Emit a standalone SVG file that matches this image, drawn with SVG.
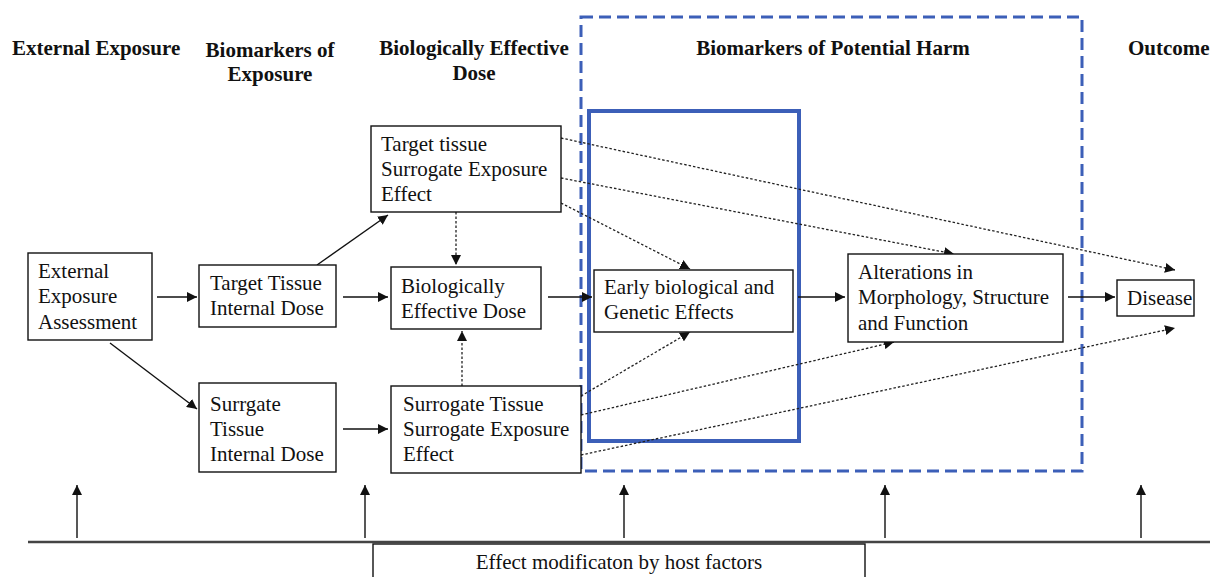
<svg xmlns="http://www.w3.org/2000/svg" width="1212" height="577" viewBox="0 0 1212 577">
<style>
.hd{font-family:'Times New Roman',Times,'Liberation Serif',Tinos,'Noto Serif','DejaVu Serif',serif;font-weight:bold;font-size:21px;fill:#111}
.tx{font-family:'Times New Roman',Times,'Liberation Serif',Tinos,'Noto Serif','DejaVu Serif',serif;font-size:21px;fill:#111}
.box{fill:#fff;stroke:#111;stroke-width:1.4}
.ln{stroke:#111;stroke-width:1.4;fill:none}
.dt{stroke:#222;stroke-width:1.3;fill:none;stroke-dasharray:2.5 2}
</style>
<defs>
<marker id="ah" viewBox="0 0 10 10" refX="10" refY="5" markerWidth="10" markerHeight="10" markerUnits="userSpaceOnUse" orient="auto">
<path d="M0,0 L10,5 L0,10 z" fill="#111"/>
</marker>
</defs>
<rect width="1212" height="577" fill="#fff"/>
<g id="headers">
<text class="hd" x="12" y="55">External Exposure</text>
<text class="hd" x="270" y="57" text-anchor="middle">Biomarkers of</text>
<text class="hd" x="270" y="81" text-anchor="middle">Exposure</text>
<text class="hd" x="474" y="55" text-anchor="middle">Biologically Effective</text>
<text class="hd" x="474" y="80" text-anchor="middle">Dose</text>
<text class="hd" x="833" y="55" text-anchor="middle">Biomarkers of Potential Harm</text>
<text class="hd" x="1128" y="55">Outcome</text>
</g>
<g id="regions">
<rect x="581" y="17" width="501" height="454" fill="none" stroke="#3c5fb8" stroke-width="3" stroke-dasharray="12 6"/>
<rect x="589" y="111" width="210" height="330" fill="none" stroke="#3c5fb8" stroke-width="4"/>
</g>
<g id="connectors">
<line class="ln" x1="157" y1="297" x2="197" y2="297" marker-end="url(#ah)"/>
<line class="ln" x1="343" y1="297" x2="388" y2="297" marker-end="url(#ah)"/>
<line class="ln" x1="548" y1="297" x2="592" y2="297" marker-end="url(#ah)"/>
<line class="ln" x1="798" y1="297" x2="845" y2="297" marker-end="url(#ah)"/>
<line class="ln" x1="1068" y1="297" x2="1115" y2="297" marker-end="url(#ah)"/>
<line class="ln" x1="110" y1="343" x2="197" y2="409" marker-end="url(#ah)"/>
<line class="ln" x1="343" y1="429" x2="388" y2="429" marker-end="url(#ah)"/>
<line class="ln" x1="317" y1="265" x2="388" y2="215" marker-end="url(#ah)"/>
<line class="dt" x1="456" y1="212" x2="456" y2="265" marker-end="url(#ah)"/>
<line class="dt" x1="462" y1="386" x2="462" y2="331" marker-end="url(#ah)"/>
<line class="dt" x1="561" y1="138" x2="1175" y2="270" marker-end="url(#ah)"/>
<line class="dt" x1="561" y1="178" x2="954" y2="254" marker-end="url(#ah)"/>
<line class="dt" x1="561" y1="203" x2="690" y2="269" marker-end="url(#ah)"/>
<line class="dt" x1="581" y1="396" x2="690" y2="332" marker-end="url(#ah)"/>
<line class="dt" x1="581" y1="415" x2="894" y2="342" marker-end="url(#ah)"/>
<line class="dt" x1="581" y1="455" x2="1175" y2="328" marker-end="url(#ah)"/>
<line class="ln" x1="77" y1="538" x2="77" y2="485" marker-end="url(#ah)"/>
<line class="ln" x1="365" y1="538" x2="365" y2="485" marker-end="url(#ah)"/>
<line class="ln" x1="624" y1="538" x2="624" y2="485" marker-end="url(#ah)"/>
<line class="ln" x1="885" y1="538" x2="885" y2="485" marker-end="url(#ah)"/>
<line class="ln" x1="1141" y1="538" x2="1141" y2="485" marker-end="url(#ah)"/>
<line x1="28" y1="542" x2="1210" y2="542" stroke="#444" stroke-width="2.5"/>
</g>
<g id="n-ext">
<rect class="box" x="28" y="253" width="124" height="87"/>
<text class="tx" x="38" y="278">External</text>
<text class="tx" x="38" y="303">Exposure</text>
<text class="tx" x="38" y="329">Assessment</text>
</g>
<g id="n-target-internal">
<rect class="box" x="199" y="265" width="137" height="62"/>
<text class="tx" x="210" y="290">Target Tissue</text>
<text class="tx" x="210" y="315">Internal  Dose</text>
</g>
<g id="n-surrgate-internal">
<rect class="box" x="199" y="383" width="137" height="89"/>
<text class="tx" x="210" y="411">Surrgate</text>
<text class="tx" x="210" y="436">Tissue</text>
<text class="tx" x="210" y="461">Internal  Dose</text>
</g>
<g id="n-target-surrogate">
<rect class="box" x="371" y="126" width="190" height="86"/>
<text class="tx" x="381" y="151">Target tissue</text>
<text class="tx" x="381" y="176">Surrogate Exposure</text>
<text class="tx" x="381" y="201">Effect</text>
</g>
<g id="n-bed">
<rect class="box" x="391" y="267" width="150" height="62"/>
<text class="tx" x="401" y="293">Biologically</text>
<text class="tx" x="401" y="318">Effective  Dose</text>
</g>
<g id="n-surrogate-surrogate">
<rect class="box" x="391" y="386" width="190" height="87"/>
<text class="tx" x="403" y="411">Surrogate Tissue</text>
<text class="tx" x="403" y="436">Surrogate Exposure</text>
<text class="tx" x="403" y="461">Effect</text>
</g>
<g id="n-early">
<rect class="box" x="594" y="270" width="199" height="62"/>
<text class="tx" x="604" y="294">Early  biological  and</text>
<text class="tx" x="604" y="319">Genetic Effects</text>
</g>
<g id="n-alter">
<rect class="box" x="848" y="254" width="215" height="88"/>
<text class="tx" x="858" y="279">Alterations  in</text>
<text class="tx" x="858" y="304">Morphology, Structure</text>
<text class="tx" x="858" y="330">and Function</text>
</g>
<g id="n-disease">
<rect class="box" x="1117" y="280" width="77" height="36"/>
<text class="tx" x="1127" y="305">Disease</text>
</g>
<g id="n-host">
<rect class="box" x="373" y="544" width="492" height="40"/>
<text class="tx" x="619" y="569" text-anchor="middle">Effect modificaton by host factors</text>
</g>
</svg>
